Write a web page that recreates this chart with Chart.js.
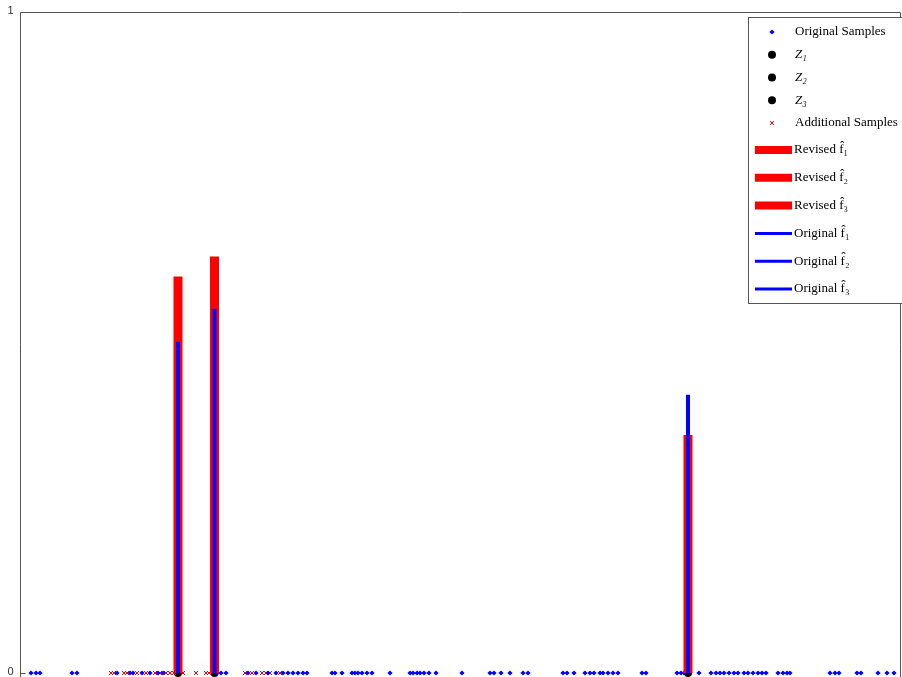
<!DOCTYPE html>
<html>
<head>
<meta charset="utf-8">
<title>Original vs revised f-hat</title>
<script src="https://cdn.jsdelivr.net/npm/chart.js@4.4.1/dist/chart.umd.min.js"></script>
<style>
  html, body { margin: 0; padding: 0; background: #fff; overflow: hidden; }
  #wrap { position: relative; width: 902px; height: 677px; }
</style>
</head>
<body>
<div id="wrap"><canvas id="fhatCanvas" width="902" height="677"></canvas></div>
<script>
// x positions of the samples along the (unlabelled) horizontal axis
const originalSamples = [
  1.1, 1.6, 2.0, 5.2, 5.7,
  9.7, 11.0, 11.3, 12.2, 13.0, 13.8, 14.3, 19.7, 20.1, 20.6,
  22.8, 23.6, 24.8, 25.6, 26.3, 26.8, 27.3, 27.8, 28.3, 28.7,
  31.2, 31.5, 32.2, 33.2, 33.5, 33.8, 34.2, 34.7, 35.2, 37.0,
  39.0, 39.3, 39.7, 40.0, 40.4, 40.9, 41.6, 44.2,
  47.0, 47.4, 48.1, 49.0, 50.3, 50.8,
  54.3, 54.7, 55.4, 56.5, 57.0, 57.4, 58.0, 58.3, 58.8, 59.3, 59.8,
  62.2, 62.6, 65.7, 66.1, 66.4, 67.9,
  69.1, 69.6, 70.0, 70.4, 70.9, 71.4, 71.8, 72.4, 72.8,
  73.3, 73.8, 74.2, 74.6, 75.8, 76.3, 76.7, 77.0,
  81.0, 81.5, 81.9, 83.7, 84.1, 85.8, 86.7, 87.4,
];
const additionalSamples = [
  9.1, 9.4, 10.4, 10.7, 11.7, 12.6, 13.5, 14.0, 14.6, 15.0, 15.4,
  16.3, 17.6, 18.6, 18.9, 22.5, 23.2, 24.2, 24.6, 25.0, 26.0,
];
const zPositions = [15.8, 19.45, 66.8];
const zLabels = ["Z\u2081", "Z\u2082", "Z\u2083"];
const revisedHeights = [0.600, 0.630, 0.360];
const originalHeights = [0.501, 0.551, 0.421];
const fhatLabels = ["f\u0302\u2081", "f\u0302\u2082", "f\u0302\u2083"];
const yTicks = [0, 1];
const xMin = 0;
const xMax = 88.1;

const BLUE = "#0000ff";
const RED = "#ff0000";

function stem(x, h) {
  return [{ x: x, y: 0 }, { x: x, y: h }];
}

function buildDatasets() {
  const sets = [];
  sets.push({
    type: "scatter",
    label: "Original Samples",
    data: originalSamples.map((x) => ({ x, y: 0 })),
    pointStyle: "rectRot",
    radius: 2.6,
    backgroundColor: BLUE,
    borderColor: BLUE,
    borderWidth: 0,
    order: 3,
    legendKind: "point",
  });
  zPositions.forEach((x, i) => {
    sets.push({
      type: "scatter",
      label: zLabels[i],
      data: [{ x, y: 0 }],
      pointStyle: "circle",
      radius: 4,
      backgroundColor: "#000",
      borderColor: "#000",
      borderWidth: 0,
      order: 5,
      legendKind: "point",
      italic: true,
    });
  });
  sets.push({
    type: "scatter",
    label: "Additional Samples",
    data: additionalSamples.map((x) => ({ x, y: 0 })),
    pointStyle: "crossRot",
    radius: 2.8,
    borderColor: RED,
    backgroundColor: RED,
    borderWidth: 1,
    order: 4,
    legendKind: "point",
  });
  zPositions.forEach((x, i) => {
    sets.push({
      type: "line",
      label: "Revised " + fhatLabels[i],
      data: stem(x, revisedHeights[i]),
      borderColor: RED,
      backgroundColor: RED,
      borderWidth: 9,
      borderCapStyle: "butt",
      pointRadius: 0,
      fill: false,
      order: 2,
      legendKind: "line",
    });
  });
  zPositions.forEach((x, i) => {
    sets.push({
      type: "line",
      label: "Original " + fhatLabels[i],
      data: stem(x, originalHeights[i]),
      borderColor: BLUE,
      backgroundColor: BLUE,
      borderWidth: 4,
      borderCapStyle: "butt",
      pointRadius: 0,
      fill: false,
      order: 1,
      legendKind: "line",
    });
  });
  sets.forEach((s) => (s.clip = false));
  return sets;
}

// box around the axes, inward tick marks and the 0 / 1 labels, matlab style
const framePlugin = {
  id: "axesFrame",
  afterDraw(chart) {
    const { ctx, chartArea } = chart;
    const yScale = chart.scales.y;
    const l = Math.round(chartArea.left) + 0.5;
    const t = Math.round(chartArea.top) + 0.5;
    const r = Math.round(chartArea.right) - 0.5;
    ctx.save();
    ctx.strokeStyle = "#555";
    ctx.lineWidth = 1;
    ctx.beginPath();
    ctx.moveTo(l, chart.height);
    ctx.lineTo(l, t);
    ctx.lineTo(r, t);
    ctx.lineTo(r, chart.height);
    yTicks.forEach((v) => {
      const py = Math.round(yScale.getPixelForValue(v)) + 0.5;
      ctx.moveTo(l, py);
      ctx.lineTo(l + 5, py);
    });
    ctx.stroke();

    ctx.fillStyle = "#333";
    ctx.font = "11px 'Liberation Sans', Arial, sans-serif";
    ctx.textAlign = "right";
    ctx.textBaseline = "middle";
    yTicks.forEach((v) => {
      ctx.fillText(String(v), l - 7, yScale.getPixelForValue(v) - 1);
    });
    ctx.restore();
  },
};

const legendPlugin = {
  id: "boxLegend",
  afterDraw(chart) {
    const ctx = chart.ctx;
    const box = { left: 748, top: 17, width: 170, height: 286 };
    ctx.save();
    ctx.fillStyle = "#fff";
    ctx.fillRect(box.left, box.top, box.width, box.height);
    ctx.strokeStyle = "#555";
    ctx.lineWidth = 1;
    ctx.strokeRect(box.left + 0.5, box.top + 0.5, box.width, box.height);

    let pointRow = 0;
    let lineRow = 0;
    ctx.textBaseline = "middle";
    chart.data.datasets.forEach((ds) => {
      let cy, tx;
      if (ds.legendKind === "point") {
        cy = box.top + 15 + pointRow * 22.75;
        pointRow++;
        tx = 795;
        const opts = {
          pointStyle: ds.pointStyle,
          radius: ds.radius,
          borderWidth: ds.borderWidth,
        };
        ctx.fillStyle = ds.backgroundColor;
        ctx.strokeStyle = ds.borderColor;
        ctx.lineWidth = ds.borderWidth;
        Chart.helpers.drawPoint(ctx, opts, 772, cy);
      } else {
        cy = 150 + lineRow * 27.8;
        lineRow++;
        tx = 794;
        ctx.strokeStyle = ds.borderColor;
        ctx.lineWidth = ds.borderWidth === 9 ? 8 : 3;
        ctx.lineCap = "butt";
        ctx.beginPath();
        ctx.moveTo(755, cy);
        ctx.lineTo(792, cy);
        ctx.stroke();
      }
      ctx.fillStyle = "#000";
      ctx.font = (ds.italic ? "italic " : "") + "13px 'Liberation Serif', 'DejaVu Serif', serif";
      ctx.fillText(ds.label, tx, cy);
    });
    ctx.restore();
  },
};

function drawFhatChart() {
  const canvas = document.getElementById("fhatCanvas");
  if (!canvas) return;

  new Chart(canvas, {
    data: { datasets: buildDatasets() },
    options: {
      responsive: false,
      animation: false,
      layout: {
        autoPadding: false,
        padding: { top: 12, right: 1, bottom: 4, left: 0 },
      },
      plugins: {
        legend: { display: false },
        tooltip: { enabled: false },
      },
      scales: {
        x: {
          type: "linear",
          display: false,
          min: xMin,
          max: xMax,
        },
        y: {
          type: "linear",
          min: 0,
          max: 1,
          afterFit: (scale) => {
            scale.width = 20;
            scale.paddingTop = 0;
            scale.paddingBottom = 0;
          },
          afterBuildTicks: (scale) => {
            scale.ticks = yTicks.map((v) => ({ value: v }));
          },
          border: { display: false },
          grid: { display: false, drawTicks: false },
          ticks: { display: false },
        },
      },
    },
    plugins: [framePlugin, legendPlugin],
  });
}

drawFhatChart();
</script>
</body>
</html>
